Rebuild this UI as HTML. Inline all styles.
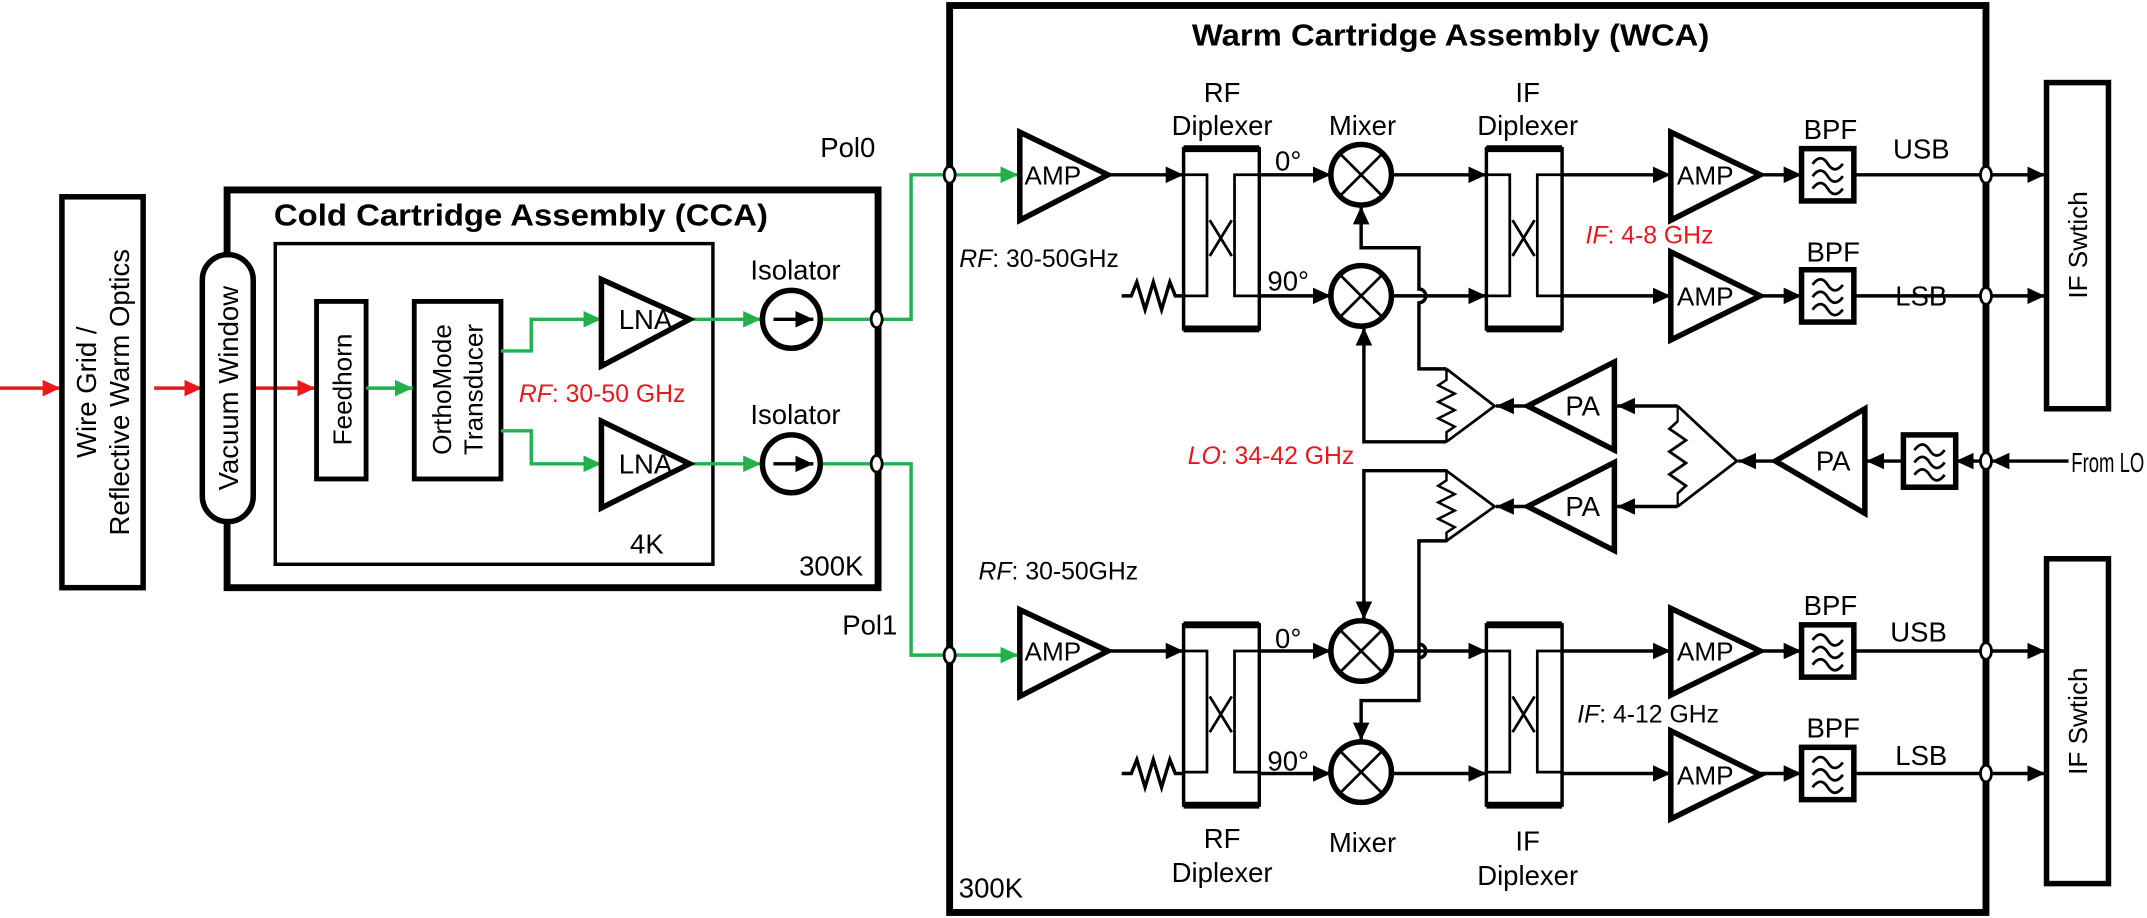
<!DOCTYPE html>
<html><head><meta charset="utf-8"><style>
html,body{margin:0;padding:0;background:#fff;}
svg{display:block;}
text{font-family:"Liberation Sans Narrow","Liberation Sans",sans-serif;fill:#000;}
.r{font-family:"Liberation Sans",sans-serif;}
</style></head><body>
<svg width="2147" height="918" viewBox="0 0 1560 667" preserveAspectRatio="none" xmlns="http://www.w3.org/2000/svg">
<defs>
<marker id="a" markerUnits="userSpaceOnUse" markerWidth="13" markerHeight="12" refX="13" refY="6" orient="auto"><path d="M0,0 L13,6 L0,12 z" fill="#000"/></marker>
<marker id="g" markerUnits="userSpaceOnUse" markerWidth="13" markerHeight="12" refX="13" refY="6" orient="auto"><path d="M0,0 L13,6 L0,12 z" fill="#22b14c"/></marker>
<marker id="rd" markerUnits="userSpaceOnUse" markerWidth="13" markerHeight="12" refX="13" refY="6" orient="auto"><path d="M0,0 L13,6 L0,12 z" fill="#e8181c"/></marker>
<g id="mix"><circle cx="0" cy="0" r="22" fill="#fff" stroke="#000" stroke-width="4"/><path d="M-15.5,-15.5 L15.5,15.5 M15.5,-15.5 L-15.5,15.5" stroke="#000" stroke-width="2"/></g>
<g id="dip"><rect x="0" y="0" width="55" height="131" fill="#fff" stroke="#000" stroke-width="2.5"/><path d="M0,0 H55 M0,131 H55" stroke="#000" stroke-width="5"/><path d="M0,19 H17 V107 H0 M55,19 H37 V107 H55 M19,52 L35,78 M35,52 L19,78" fill="none" stroke="#000" stroke-width="2"/></g>
<g id="bpf"><rect x="0" y="0" width="38" height="38" fill="#fff" stroke="#000" stroke-width="4"/><path d="M8,11 q6,-8 11,0 t11,0 M8,20 q6,-8 11,0 t11,0 M8,29 q6,-8 11,0 t11,0" fill="none" stroke="#000" stroke-width="2"/></g>
<g id="res"><polyline points="0,0 0,8 -6,12 6,18 -6,24 6,30 -6,36 6,42 0,46 0,53" fill="none" stroke="#000" stroke-width="1.8"/></g>
</defs>
<g fill="none" stroke-linejoin="miter">
<g stroke="#e8181c" stroke-width="2.5">
<line x1="0" y1="282" x2="44" y2="282" marker-end="url(#rd)"/>
<line x1="112" y1="282" x2="147" y2="282" marker-end="url(#rd)"/>
<line x1="184" y1="282" x2="229" y2="282" marker-end="url(#rd)"/>
</g>
<rect x="45" y="143" width="59" height="284" fill="#fff" stroke="#000" stroke-width="4"/>
<rect x="165" y="138" width="473" height="289" stroke="#000" stroke-width="5"/>
<rect x="147" y="185" width="37" height="194" rx="18.5" fill="#fff" stroke="#000" stroke-width="4"/>
<rect x="200" y="177" width="318" height="233" stroke="#000" stroke-width="2.5"/>
<rect x="230" y="219" width="36" height="129" fill="#fff" stroke="#000" stroke-width="3.5"/>
<rect x="301" y="219" width="63" height="129" fill="#fff" stroke="#000" stroke-width="3.5"/>
<g stroke="#22b14c" stroke-width="2.5">
<line x1="266" y1="282" x2="300" y2="282" marker-end="url(#g)"/>
<polyline points="364,255 386,255 386,232 437,232" marker-end="url(#g)"/>
<polyline points="364,313 386,313 386,337 437,337" marker-end="url(#g)"/>
<line x1="501" y1="232" x2="553" y2="232" marker-end="url(#g)"/>
<line x1="501" y1="337" x2="553" y2="337" marker-end="url(#g)"/>
<polyline points="596,232 662,232 662,127 686,127"/>
<polyline points="596,337 662,337 662,476 686,476"/>
<line x1="694" y1="127" x2="740" y2="127" marker-end="url(#g)"/>
<line x1="694" y1="476" x2="740" y2="476" marker-end="url(#g)"/>
</g>
<polygon points="437,203 437,266 501,232" fill="#fff" stroke="#000" stroke-width="4"/>
<polygon points="437,306 437,369 501,337" fill="#fff" stroke="#000" stroke-width="4"/>
<circle cx="575" cy="232" r="21" fill="#fff" stroke="#000" stroke-width="4"/>
<circle cx="575" cy="337" r="21" fill="#fff" stroke="#000" stroke-width="4"/>
<line x1="562" y1="232" x2="591" y2="232" stroke="#000" stroke-width="2.5" marker-end="url(#a)"/>
<line x1="562" y1="337" x2="591" y2="337" stroke="#000" stroke-width="2.5" marker-end="url(#a)"/>

<rect x="690" y="4" width="753" height="659" stroke="#000" stroke-width="5"/>
<rect x="1487" y="60" width="45" height="237" fill="#fff" stroke="#000" stroke-width="4"/>
<rect x="1487" y="406" width="45" height="236" fill="#fff" stroke="#000" stroke-width="4"/>

<g stroke="#000" stroke-width="2.5">
<line x1="805" y1="127" x2="860" y2="127" marker-end="url(#a)"/>
<line x1="915" y1="127" x2="967" y2="127" marker-end="url(#a)"/>
<line x1="915" y1="215" x2="967" y2="215" marker-end="url(#a)"/>
<line x1="1011" y1="127" x2="1080" y2="127" marker-end="url(#a)"/>
<line x1="1011" y1="215" x2="1080" y2="215" marker-end="url(#a)"/>
<line x1="1135" y1="127" x2="1214" y2="127" marker-end="url(#a)"/>
<line x1="1135" y1="215" x2="1214" y2="215" marker-end="url(#a)"/>
<line x1="1279" y1="127" x2="1309" y2="127" marker-end="url(#a)"/>
<line x1="1279" y1="215" x2="1309" y2="215" marker-end="url(#a)"/>
<line x1="1347" y1="127" x2="1439" y2="127"/>
<line x1="1347" y1="215" x2="1439" y2="215"/>
<line x1="1447" y1="127" x2="1486" y2="127" marker-end="url(#a)"/>
<line x1="1447" y1="215" x2="1486" y2="215" marker-end="url(#a)"/>
<polyline points="815,215 822,215 826,205 832,225 838,205 844,225 850,205 854,215 860,215"/>
<line x1="805" y1="473" x2="860" y2="473" marker-end="url(#a)"/>
<line x1="915" y1="473" x2="967" y2="473" marker-end="url(#a)"/>
<line x1="915" y1="562" x2="967" y2="562" marker-end="url(#a)"/>
<line x1="1011" y1="473" x2="1080" y2="473" marker-end="url(#a)"/>
<line x1="1011" y1="562" x2="1080" y2="562" marker-end="url(#a)"/>
<line x1="1135" y1="473" x2="1214" y2="473" marker-end="url(#a)"/>
<line x1="1135" y1="562" x2="1214" y2="562" marker-end="url(#a)"/>
<line x1="1279" y1="473" x2="1309" y2="473" marker-end="url(#a)"/>
<line x1="1279" y1="562" x2="1309" y2="562" marker-end="url(#a)"/>
<line x1="1347" y1="473" x2="1439" y2="473"/>
<line x1="1347" y1="562" x2="1439" y2="562"/>
<line x1="1447" y1="473" x2="1486" y2="473" marker-end="url(#a)"/>
<line x1="1447" y1="562" x2="1486" y2="562" marker-end="url(#a)"/>
<polyline points="815,562 822,562 826,552 832,572 838,552 844,572 850,552 854,562 860,562"/>
<line x1="1503" y1="335" x2="1447" y2="335" marker-end="url(#a)"/>
<line x1="1439" y1="335" x2="1421" y2="335" marker-end="url(#a)"/>
<line x1="1384" y1="335" x2="1356" y2="335" marker-end="url(#a)"/>
<line x1="1290" y1="335" x2="1263" y2="335" marker-end="url(#a)"/>
<polyline points="1219,295 1262,335 1219,368" stroke-width="2"/>
<line x1="1219" y1="295" x2="1175" y2="295" marker-end="url(#a)"/>
<line x1="1219" y1="368" x2="1175" y2="368" marker-end="url(#a)"/>
<line x1="1110" y1="295" x2="1087" y2="295" marker-end="url(#a)"/>
<line x1="1110" y1="368" x2="1087" y2="368" marker-end="url(#a)"/>
<polyline points="1051,268 1086,295 1051,321" stroke-width="2"/>
<polyline points="1051,342 1086,368 1051,393" stroke-width="2"/>
<path d="M1051,268 H1031 V220 A5,5 0 0 0 1031,210 V180 H989 V150" marker-end="url(#a)"/>
<polyline points="1051,321 991,321 991,238" marker-end="url(#a)"/>
<polyline points="1051,342 991,342 991,450" marker-end="url(#a)"/>
<path d="M1051,393 H1031 V478 A5,5 0 0 0 1031,468 M1031,478 V509 H989 V538" marker-end="url(#a)"/>
</g>
<g transform="translate(1219,295) scale(1,1.38)"><polyline points="0,0 0,8 -6,12 6,18 -6,24 6,30 -6,36 6,42 0,46 0,53" fill="none" stroke="#000" stroke-width="1.6"/></g>
<use href="#res" x="1051" y="268"/>
<use href="#res" x="1051" y="341"/>

<g fill="#fff" stroke="#000" stroke-width="4">
<polygon points="741,96 741,160 805,127"/>
<polygon points="741,443 741,506 805,473"/>
<polygon points="1214,96 1214,160 1279,127"/>
<polygon points="1214,183 1214,247 1279,215"/>
<polygon points="1214,442 1214,505 1279,473"/>
<polygon points="1214,531 1214,595 1279,563"/>
<polygon points="1355,297 1355,373 1290,335"/>
<polygon points="1173,263 1173,327 1110,295"/>
<polygon points="1173,336 1173,400 1110,368"/>
</g>
<use href="#dip" x="860" y="108"/>
<use href="#dip" x="1080" y="108"/>
<use href="#dip" x="860" y="454"/>
<use href="#dip" x="1080" y="454"/>
<use href="#mix" x="989" y="127"/>
<use href="#mix" x="989" y="215"/>
<use href="#mix" x="989" y="473"/>
<use href="#mix" x="989" y="561"/>
<use href="#bpf" x="1309" y="108"/>
<use href="#bpf" x="1309" y="196"/>
<use href="#bpf" x="1309" y="454"/>
<use href="#bpf" x="1309" y="543"/>
<use href="#bpf" x="1383" y="316"/>
<g fill="#fff" stroke="#000" stroke-width="2">
<ellipse cx="637" cy="232" rx="4" ry="6"/><ellipse cx="637" cy="337" rx="4" ry="6"/>
<ellipse cx="690" cy="127" rx="4" ry="6"/><ellipse cx="690" cy="476" rx="4" ry="6"/>
<ellipse cx="1443" cy="127" rx="4" ry="6"/><ellipse cx="1443" cy="215" rx="4" ry="6"/>
<ellipse cx="1443" cy="473" rx="4" ry="6"/><ellipse cx="1443" cy="562" rx="4" ry="6"/>
<ellipse cx="1443" cy="335" rx="4" ry="6"/>
</g>
</g>

<g class="r" font-size="20" text-anchor="middle" dominant-baseline="central">
<text class="r" transform="translate(63,285) rotate(-90)">Wire Grid /</text>
<text class="r" transform="translate(87,285) rotate(-90)">Reflective Warm Optics</text>
<text class="r" transform="translate(166,282) rotate(-90)">Vacuum Window</text>
<text class="r" transform="translate(249,283) rotate(-90)" font-size="19">Feedhorn</text>
<text class="r" transform="translate(321,283) rotate(-90)" font-size="19">OrthoMode</text>
<text class="r" transform="translate(344,283) rotate(-90)" font-size="19">Transducer</text>
<text class="r" transform="translate(1510,178) rotate(-90)" font-size="19">IF Swtich</text>
<text class="r" transform="translate(1510,524) rotate(-90)" font-size="19">IF Swtich</text>
</g>
<text x="199" y="164" font-size="22" font-weight="bold" textLength="359" lengthAdjust="spacingAndGlyphs">Cold Cartridge Assembly (CCA)</text>
<text x="866" y="33" font-size="22" font-weight="bold" textLength="376" lengthAdjust="spacingAndGlyphs">Warm Cartridge Assembly (WCA)</text>
<g font-size="20" text-anchor="middle">
<text x="469" y="239">LNA</text><text x="469" y="344">LNA</text>
<text x="578" y="203">Isolator</text><text x="578" y="308">Isolator</text>
<text x="470" y="402">4K</text><text x="604" y="418">300K</text>
<text x="616" y="114">Pol0</text><text x="632" y="461">Pol1</text>
<text x="765" y="134" font-size="19">AMP</text><text x="765" y="480" font-size="19">AMP</text>
<text x="1239" y="134" font-size="19">AMP</text><text x="1239" y="222" font-size="19">AMP</text>
<text x="1239" y="480" font-size="19">AMP</text><text x="1239" y="570" font-size="19">AMP</text>
<text x="1332" y="342">PA</text><text x="1150" y="302">PA</text><text x="1150" y="375">PA</text>
<text x="888" y="74">RF</text><text x="888" y="98">Diplexer</text>
<text x="990" y="98">Mixer</text>
<text x="1110" y="74">IF</text><text x="1110" y="98">Diplexer</text>
<text x="888" y="616">RF</text><text x="888" y="641">Diplexer</text>
<text x="990" y="619">Mixer</text>
<text x="1110" y="618">IF</text><text x="1110" y="643">Diplexer</text>
<text x="936" y="124">0°</text><text x="936" y="211">90°</text>
<text x="936" y="471">0°</text><text x="936" y="560">90°</text>
<text x="1330" y="101">BPF</text><text x="1332" y="190">BPF</text>
<text x="1330" y="447">BPF</text><text x="1332" y="536">BPF</text>
<text x="1396" y="115">USB</text><text x="1396" y="222">LSB</text>
<text x="1394" y="466">USB</text><text x="1396" y="556">LSB</text>
<text x="720" y="652">300K</text>
<text x="1505" y="343" text-anchor="start" textLength="53" lengthAdjust="spacingAndGlyphs">From LO</text>
</g>
<g font-size="18">
<text x="377" y="292" style="fill:#e8181c"><tspan font-style="italic">RF</tspan>: 30-50 GHz</text>
<text x="697" y="194"><tspan font-style="italic">RF</tspan>: 30-50GHz</text>
<text x="711" y="421"><tspan font-style="italic">RF</tspan>: 30-50GHz</text>
<text x="1152" y="177" style="fill:#e8181c"><tspan font-style="italic">IF</tspan>: 4-8 GHz</text>
<text x="1146" y="525"><tspan font-style="italic">IF</tspan>: 4-12 GHz</text>
<text x="863" y="337" style="fill:#e8181c"><tspan font-style="italic">LO</tspan>: 34-42 GHz</text>
</g>
</svg>
</body></html>
